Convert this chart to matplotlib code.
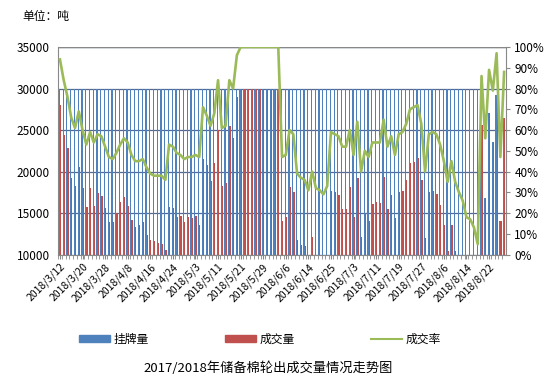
import numpy as np
import matplotlib.pyplot as plt
from matplotlib.ticker import FuncFormatter, MultipleLocator
from matplotlib.lines import Line2D
from matplotlib.patches import Patch

plt.rcParams['font.family'] = ['Noto Sans CJK SC', 'DejaVu Sans']

tick_labels = ['2018/3/12', '2018/3/20', '2018/3/28', '2018/4/8', '2018/4/16',
               '2018/4/24', '2018/5/3', '2018/5/11', '2018/5/21', '2018/5/29',
               '2018/6/6', '2018/6/14', '2018/6/25', '2018/7/3', '2018/7/11',
               '2018/7/19', '2018/7/27', '2018/8/6', '2018/8/14', '2018/8/22']

# 成交量 (tons)
traded = [28000, 24400, 22800, 19200, 18300, 20600, 18000, 15700, 18000, 15900,
          17400, 17100, 15600, 13900, 13900, 15000, 16300, 16900, 15900, 14200,
          13300, 13500, 13900, 12300, 11700, 11600, 11400, 11300, 10500, 15700,
          15600, 14500, 14700, 13900, 14500, 14400, 14600, 13500, 21500, 20800,
          18800, 21000, 25000, 18300, 18600, 25500, 24000, 29000, 30000, 30000,
          30000, 30000, 30000, 30000, 30000, 30000, 30000, 30000, 30000, 14000,
          14500, 18100, 17500, 11700, 11200, 11000, 9300, 12100, 9600, 9300,
          8700, 9900, 17600, 17500, 17200, 15500, 15500, 18100, 14500, 19200,
          12100, 15000, 14000, 16100, 16300, 16200, 19400, 15500, 17200, 14400,
          17500, 17600, 19000, 21000, 21200, 21600, 19000, 12000, 17500, 17600,
          17300, 16000, 13600, 10400, 13500, 10400, 9000, 7800, 5400, 5100,
          3900, 1500, 25600, 16800, 27000, 23500, 29200, 14100, 26400]

# 挂牌量 (tons)
listed = [30000] * 112 + [25600, 16800, 27000, 23500, 29200, 14100, 26400]

# 成交率 (%)
rate = [94, 84, 76, 66, 61, 69, 60, 53, 59, 54,
        58, 57, 52, 47, 46, 49, 53, 56, 54, 48,
        45, 45, 46, 42, 39, 38, 38, 38, 36, 53,
        52, 49, 48, 46, 47, 47, 48, 47, 71, 67,
        62, 68, 84, 61, 62, 84, 80, 96, 100, 100,
        100, 100, 100, 100, 100, 100, 100, 100, 100, 47,
        48, 60, 58, 39, 37, 36, 31, 40, 32, 31,
        29, 33, 59, 58, 57, 52, 52, 60, 48, 64,
        40, 50, 47, 54, 54, 54, 65, 52, 57, 48,
        58, 59, 63, 70, 71, 72, 63, 40, 58, 59,
        58, 53, 45, 35, 45, 35, 30, 26, 18, 17,
        13, 5, 86, 56, 89, 79, 97, 47, 88]

n = len(traded)
x = np.arange(n)

fig = plt.figure(figsize=(5.53, 3.76), dpi=100)
ax = fig.add_axes([0.105, 0.323, 0.810, 0.552])

w = 0.32
blue = '#4F81BD'
red = '#C0504D'
green = '#9BBB59'
ax.bar(x - w / 2, listed, w, color=blue, zorder=2)
ax.bar(x + w / 2, traded, w, color=red, zorder=2)

ax.set_ylim(10000, 35000)
ax.set_xlim(-0.5, n - 0.5)
ax.yaxis.set_major_locator(MultipleLocator(5000))
ax.grid(axis='y', color='#56688f', lw=0.9, zorder=1)
ax.set_axisbelow(True)

ax.set_xticks(x[::6])
ax.set_xticklabels(tick_labels, rotation=45, ha='right', va='top',
                   rotation_mode='anchor', fontsize=7.5)
ax.set_xticks(x - 0.5, minor=True)
ax.tick_params(axis='x', which='major', length=3, color='#888888', pad=2)
ax.tick_params(axis='x', which='minor', length=3, color='#888888')
ax.tick_params(axis='y', length=0, labelsize=8.5, pad=6)

for s in ['top', 'right']:
    ax.spines[s].set_visible(False)
ax.spines['left'].set_color('#888888')
ax.spines['bottom'].set_color('#888888')
ax.axhline(35000, color='#888888', lw=1.0, zorder=1)

ax2 = ax.twinx()
ax2.plot(x, rate, color=green, lw=1.9, zorder=3)
ax2.set_ylim(0, 100)
ax2.yaxis.set_major_locator(MultipleLocator(10))
ax2.yaxis.set_major_formatter(FuncFormatter(lambda v, p: f'{v:.0f}%'))
ax2.tick_params(axis='y', length=3, color='#888888', labelsize=8.5, pad=3)
for s in ['top', 'left', 'bottom']:
    ax2.spines[s].set_visible(False)
ax2.spines['right'].set_color('#888888')
ax2.set_xlim(-0.5, n - 0.5)

fig.text(0.04, 0.955, '单位：吨', fontsize=8.5, ha='left', va='center')

handles = [Patch(color=blue), Patch(color=red), Line2D([], [], color=green, lw=1.5)]
fig.legend(handles, ['挂牌量', '成交量', '成交率'], ncol=3, loc='center',
           bbox_to_anchor=(0.47, 0.098), frameon=False, fontsize=8.5,
           handlelength=2.6, handleheight=0.5, columnspacing=6.5, handletextpad=0.3)

fig.text(0.485, 0.022, '2017/2018年储备棉轮出成交量情况走势图', fontsize=9.5,
         ha='center', va='center')

fig.savefig('out.png', dpi=100)
